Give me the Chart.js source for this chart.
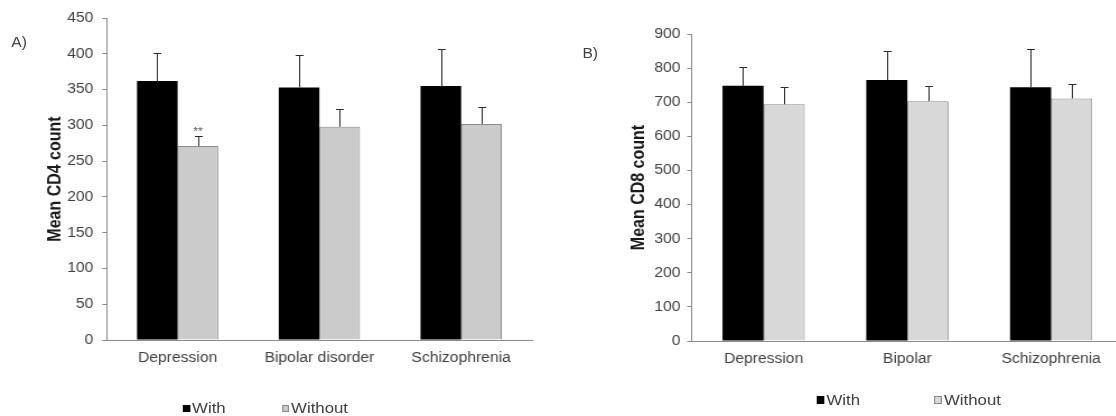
<!DOCTYPE html>
<html>
<head>
<meta charset="utf-8">
<script src="https://cdn.jsdelivr.net/npm/chart.js@4.4.1/dist/chart.umd.min.js"></script>
<style>
html,body{margin:0;padding:0;background:#fff;overflow:hidden;width:1116px;height:416px;}
#wrap{position:absolute;left:0;top:0;width:997px;height:416px;overflow:hidden;
  transform:scaleX(1.12);transform-origin:0 0;
  font-family:"Liberation Sans",Arial,sans-serif;color:#404040;}
canvas{position:absolute;top:0;}
#ca{left:0;}
#cb{left:500px;}
.panel{position:absolute;font-size:14px;line-height:16px;color:#404040;}
.leg{position:absolute;font-size:15px;line-height:16px;white-space:nowrap;color:#404040;}
.leg i{position:absolute;top:50%;}
</style>
</head>
<body>
<div id="wrap">
  <canvas id="ca" width="500" height="416"></canvas>
  <canvas id="cb" width="510" height="416"></canvas>
  <div class="panel" style="left:10px;top:34px;">A)</div>
  <div class="panel" style="left:520px;top:45px;">B)</div>
  <div id="legA"></div>
  <div id="legB"></div>
</div>
<script>
// ---------- data ----------
const seriesLabels = ['With', 'Without'];

const categoriesA = ['Depression', 'Bipolar disorder', 'Schizophrenia'];
const cd4With = [362, 353, 355];
const cd4WithErr = [39, 45, 51];
const cd4Without = [271, 298, 302];
const cd4WithoutErr = [14, 25, 24];
const cd4WithoutMarks = ['**', '', ''];
const yTitleA = 'Mean CD4 count';
const yMaxA = 450, yStepA = 50;

const categoriesB = ['Depression', 'Bipolar', 'Schizophrenia'];
const cd8With = [748, 765, 744];
const cd8WithErr = [54, 85, 111];
const cd8Without = [694, 703, 711];
const cd8WithoutErr = [52, 44, 41];
const yTitleB = 'Mean CD8 count';
const yMaxB = 900, yStepB = 100;

// ---------- styles ----------
const FONT = "'Liberation Sans', Arial, sans-serif";
const withColor = '#000000';
const withoutBorder = '#8a8a8a';
const axisColor = '#8a8a8a';
const textColor = '#404040';

Chart.defaults.font.family = FONT;
Chart.defaults.color = textColor;

const errorBars = {
  id: 'errorBars',
  afterDatasetsDraw(chart) {
    const ctx = chart.ctx;
    const ys = chart.scales.y;
    chart.data.datasets.forEach((ds, i) => {
      const meta = chart.getDatasetMeta(i);
      meta.data.forEach((bar, j) => {
        const v = ds.data[j];
        const e = ds.errors ? ds.errors[j] : 0;
        const yTop = Math.round(ys.getPixelForValue(v + e)) + 0.5;
        const yBase = ys.getPixelForValue(v);
        const x = Math.round(bar.x) + 0.5;
        ctx.save();
        ctx.strokeStyle = '#2a2a2a';
        ctx.lineWidth = 1;
        ctx.beginPath();
        ctx.moveTo(x, yBase);
        ctx.lineTo(x, yTop);
        ctx.moveTo(x - 3.5, yTop);
        ctx.lineTo(x + 3.5, yTop);
        ctx.stroke();
        if (ds.marks && ds.marks[j]) {
          ctx.fillStyle = '#555';
          ctx.font = '11px ' + FONT;
          ctx.textAlign = 'center';
          ctx.textBaseline = 'alphabetic';
          ctx.fillText(ds.marks[j], bar.x, yTop - 2);
        }
        ctx.restore();
      });
    });
  }
};

function makeChart(id, cats, w, wErr, wo, woErr, woMarks, title, yMax, yStep, lay) {
  return new Chart(document.getElementById(id), {
    type: 'bar',
    data: {
      labels: cats,
      datasets: [
        { label: seriesLabels[0], data: w, errors: wErr, backgroundColor: withColor,
          borderColor: withColor, borderWidth: 0, barPercentage: 1, categoryPercentage: lay.cat },
        { label: seriesLabels[1], data: wo, errors: woErr, marks: woMarks, backgroundColor: lay.grey,
          borderColor: withoutBorder, borderWidth: 1, barPercentage: 1, categoryPercentage: lay.cat }
      ]
    },
    options: {
      responsive: false,
      animation: false,
      devicePixelRatio: 1,
      layout: { padding: { top: lay.top, right: lay.right, left: 0, bottom: 0 } },
      plugins: { legend: { display: false }, tooltip: { enabled: false } },
      scales: {
        x: {
          grid: { display: false, drawTicks: false },
          border: { color: axisColor, width: 1 },
          ticks: { font: { size: 14 }, color: textColor, padding: 10, maxRotation: 0 },
          afterFit(s) { s.height = lay.xh; }
        },
        y: {
          min: 0, max: yMax,
          ticks: { stepSize: yStep, font: { size: 14 }, color: textColor, padding: lay.tp },
          grid: { drawOnChartArea: false, drawTicks: true, tickLength: 4, color: axisColor },
          border: { color: axisColor, width: 1 },
          title: { display: true, text: title, font: { size: 16, weight: 'bold' }, color: '#1a1a1a',
                   padding: { top: lay.tt, bottom: 0 } },
          afterFit(s) { s.width = lay.yw; }
        }
      }
    },
    plugins: [errorBars]
  });
}

makeChart('ca', categoriesA, cd4With, cd4WithErr, cd4Without, cd4WithoutErr, cd4WithoutMarks,
  yTitleA, yMaxA, yStepA,
  { top: 18, right: 25, xh: 76, yw: 95.3, tt: 39.5, tp: 8, cat: 0.573, grey: '#cbcbcb' });
makeChart('cb', categoriesB, cd8With, cd8WithErr, cd8Without, cd8WithoutErr, null,
  yTitleB, yMaxB, yStepB,
  { top: 34, right: 7.3, xh: 75, yw: 117.6, tt: 61, tp: 6, cat: 0.572, grey: '#d8d8d8' });

// ---------- legends (HTML) ----------
function legend(elId, positions, top, bw, bh, greys) {
  const el = document.getElementById(elId);
  seriesLabels.forEach((lab, i) => {
    const d = document.createElement('div');
    d.className = 'leg';
    d.style.left = positions[i] + 'px';
    d.style.top = top + 'px';
    d.style.paddingLeft = (bw + 1.8) + 'px';
    const b = document.createElement('i');
    b.style.left = '0px';
    b.style.width = (bw - (i ? 2 : 0)) + 'px';
    b.style.height = (bh - (i ? 2 : 0)) + 'px';
    b.style.marginTop = (-bh / 2) + 'px';
    b.style.background = i ? greys : withColor;
    b.style.border = i ? ('1px solid ' + withoutBorder) : 'none';
    d.appendChild(b);
    d.appendChild(document.createTextNode(lab));
    el.appendChild(d);
  });
}
legend('legA', [163.4, 251.8], 400, 6.3, 7, '#cbcbcb');
legend('legB', [728.6, 833.5], 392, 7.5, 8, '#d8d8d8');
</script>
</body>
</html>
